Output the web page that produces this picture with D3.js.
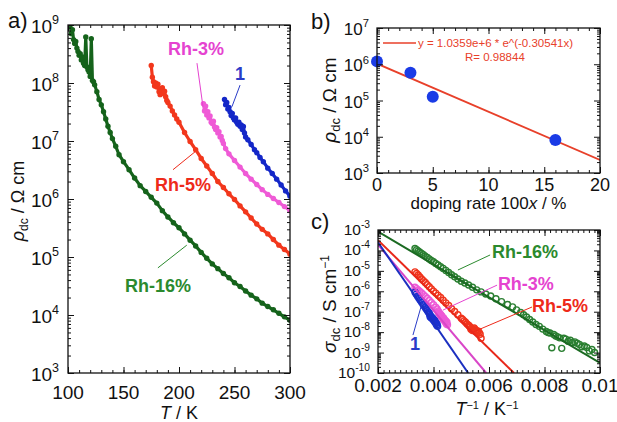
<!DOCTYPE html>
<html>
<head>
<meta charset="utf-8">
<script src="https://cdn.jsdelivr.net/npm/d3@7"></script>
<style>
  body { margin: 0; background: #fff; }
  svg { display: block; font-family: "Liberation Sans", Arial, Helvetica, sans-serif; }
</style>
</head>
<body>
<div id="chart"></div>
<script>
// ---- data ----
// panel a: rho_dc (Ohm cm) vs T (K)
const tRh16 = [102,103,104,105,106,107,108,109,110,111,112,113,114,115,116,117,118,119,120,121,122,123,124,
  126,128,130,132,134,136,138,140,143,146,150,155,160,165,170,175,180,185,190,195,200,205,210,215,220,225,230,
  235,240,245,250,255,260,265,270,275,280,285,290,295,300];
const rhoRh16 = [1.0e9,7.1e8,8.3e8,5.6e8,4.8e8,5.2e8,4.0e8,3.5e8,3.0e8,3.2e8,2.5e8,2.8e8,2.2e8,2.0e8,6.2e8,1.9e8,
  1.7e8,1.55e8,1.3e8,5.8e8,1.1e8,1.05e8,9.3e7,
  7.1e7,5.2e7,4.2e7,3.2e7,2.4e7,1.8e7,1.4e7,1.1e7,8.1e6,5.8e6,4.4e6,
  3.2e6,2.3e6,1.7e6,1.35e6,1.07e6,8.5e5,6.3e5,4.9e5,3.9e5,3.2e5,2.5e5,1.95e5,1.55e5,1.2e5,9.5e4,7.6e4,
  6.3e4,5.2e4,4.4e4,3.6e4,3.1e4,2.6e4,2.2e4,1.9e4,1.6e4,1.4e4,1.23e4,1.07e4,9.3e3,8.1e3];

const tRh5 = [175,176,177,178,179,180,181,182,183,184,185,186,187,188,189,190,192,194,196,198,200,
  205,210,215,220,225,230,235,240,245,250,255,260,265,270,275,280,285,290,295,300];
const rhoRh5 = [2.0e8,1.26e8,1.05e8,8.9e7,1.0e8,8.5e7,9.5e7,7.1e7,6.3e7,7.6e7,8.3e7,6.6e7,7.2e7,5.8e7,5.0e7,4.6e7,
  4.0e7,3.3e7,2.8e7,2.4e7,2.1e7,
  1.4e7,9.8e6,7.1e6,5.0e6,3.7e6,2.75e6,2.0e6,1.58e6,1.23e6,9.8e5,7.6e5,6.0e5,4.7e5,3.7e5,3.0e5,2.5e5,2.0e5,1.6e5,1.35e5,1.12e5];

const tRh3 = [222,223,224,225,226,227,228,229,230,231,232,233,234,235,236,237,238,239,240,242,245,
  250,255,260,265,270,275,280,285,290,295,300];
const rhoRh3 = [4.4e7,3.3e7,4.0e7,2.8e7,3.2e7,2.5e7,2.7e7,2.1e7,2.0e7,2.2e7,1.74e7,1.58e7,1.7e7,1.38e7,1.45e7,1.17e7,
  1.2e7,1.02e7,9.1e6,7.4e6,6.0e6,
  4.6e6,3.55e6,2.75e6,2.2e6,1.78e6,1.45e6,1.2e6,1.02e6,8.7e5,7.4e5,6.3e5];

const t1 = [241,242,243,244,245,246,247,248,249,250,251,252,253,254,255,256,257,258,259,260,
  262,265,268,270,273,276,280,284,288,292,296,300];
const rho1 = [5.2e7,4.2e7,4.6e7,3.55e7,3.8e7,3.2e7,2.75e7,3.0e7,2.5e7,2.3e7,2.5e7,2.1e7,1.95e7,2.1e7,1.8e7,1.9e7,
  1.58e7,1.78e7,1.38e7,1.17e7,
  1.05e7,8.7e6,7.1e6,6.3e6,5.2e6,4.4e6,3.4e6,2.75e6,2.2e6,1.74e6,1.38e6,1.12e6];

// panel b: rho_dc at room temperature vs doping rate
const dopingRate = [0, 3, 5, 16];
const rhoRT = [1.2e6, 5.8e5, 1.27e5, 8.1e3];
const fitA = 1.0359e6;
const fitK = -0.30541;
const fitR = 0.98844;
const fitRange = [0, 20];

// panel c: straight fits of sigma_dc vs 1/T (end points)
const fitInvT16 = [0.002, 0.01],   fitSig16 = [8.3e-4, 3.1e-10];
const fitInvT5  = [0.002, 0.0069], fitSig5  = [3.2e-4, 1.0e-10];
const fitInvT3  = [0.002, 0.0059], fitSig3  = [1.9e-4, 1.0e-10];
const fitInvT1  = [0.002, 0.00525], fitSig1 = [2.5e-4, 1.0e-10];

// tick labels
const aXTicks = [100, 150, 200, 250, 300];
const aYExp = [3, 4, 5, 6, 7, 8, 9];
const bXTicks = [0, 5, 10, 15, 20];
const bYExp = [3, 4, 5, 6, 7];
const cXTicks = [0.002, 0.004, 0.006, 0.008, 0.01];
const cXLabels = ["0.002", "0.004", "0.006", "0.008", "0.01"];
const cYExp = [-10, -9, -8, -7, -6, -5, -4, -3];

const series = [
  {name: "Rh-16%", T: tRh16, rho: rhoRh16, color: "#15631b", open: "#2a7f31", label: "#2b8a2e",
   fx: fitInvT16, fs: fitSig16, lineC: "#1b6a22",
   a: {lab: [151.4, 2.5e4], lead: [[181, 6.5e4], [207, 1.6e5]]},
   c: {lab: [0.00611, 4.3e-5], lead: [[0.00604, 6.0e-5], [0.00488, 1.1e-5]]}},
  {name: "Rh-5%", T: tRh5, rho: rhoRh5, color: "#f2371c", open: "#f0341c", label: "#ee2a1a",
   fx: fitInvT5, fs: fitSig5, lineC: "#e8281a",
   a: {lab: [178.4, 1.37e6], lead: [[214.4, 6.5e6], [194.6, 3.2e6]]},
   c: {lab: [0.00755, 9.8e-8], lead: [[0.00755, 1.7e-7], [0.00542, 1.0e-8]]}},
  {name: "Rh-3%", T: tRh3, rho: rhoRh3, color: "#ef5ad6", open: "#ee5ad6", label: "#e543d0",
   fx: fitInvT3, fs: fitSig3, lineC: "#d946c8",
   a: {lab: [190.1, 3.0e8], lead: [[216.2, 2.2e8], [221.6, 3.9e7]]},
   c: {lab: [0.00632, 1.15e-6], lead: [[0.00629, 2.0e-6], [0.00434, 1.2e-7]]}},
  {name: "1", T: t1, rho: rho1, color: "#1427c8", open: "#1a30d0", label: "#2a3cc8",
   fx: fitInvT1, fs: fitSig1, lineC: "#1b2fc0",
   a: {lab: [250.5, 1.13e8], lead: [[255, 9.2e7], [247.7, 3.9e7]]},
   c: {lab: [0.00315, 1.35e-9], lead: [[0.00326, 7.2e-9], [0.00359, 2.7e-7]]}}
];

// ---- helpers ----
const W = 617, H = 422;
const svg = d3.select("#chart").append("svg").attr("width", W).attr("height", H);
const defs = svg.append("defs");
const ink = "#111";

function decadeMinors(e0, e1) {
  const out = [];
  for (let e = e0; e < e1; e++) for (let m = 2; m <= 9; m++) out.push(m * Math.pow(10, e));
  return out;
}

function frame(x, y, xMaj, xMin, yMaj, yMin) {
  const g = svg.append("g");
  const [l, r] = x.range(), [b, t] = y.range();
  const add = (axis, tx, ty, vals, size) => g.append("g")
      .attr("transform", `translate(${tx},${ty})`)
      .call(axis.tickValues(vals).tickSize(size).tickFormat(""))
      .call(s => s.select(".domain").remove())
      .selectAll("line").attr("stroke", ink).attr("stroke-width", 1);
  for (const [vals, size] of [[xMaj, -6], [xMin, -3]]) {
    add(d3.axisBottom(x), 0, b, vals, size);
    add(d3.axisTop(x), 0, t, vals, size);
  }
  for (const [vals, size] of [[yMaj, -6], [yMin, -3]]) {
    add(d3.axisLeft(y), l, 0, vals, size);
    add(d3.axisRight(y), r, 0, vals, size);
  }
  g.append("rect").attr("x", l).attr("y", t).attr("width", r - l).attr("height", b - t)
    .attr("fill", "none").attr("stroke", ink).attr("stroke-width", 1.3);
}

function clip(id, x, y) {
  const [l, r] = x.range(), [b, t] = y.range();
  defs.append("clipPath").attr("id", id).append("rect")
    .attr("x", l).attr("y", t).attr("width", r - l).attr("height", b - t);
  return `url(#${id})`;
}

function logLabels(y, exps, xEnd, size, dy) {
  svg.append("g").selectAll("text").data(exps).join("text")
    .attr("x", xEnd).attr("y", d => y(Math.pow(10, d)) + dy)
    .attr("text-anchor", "end").attr("font-size", size).attr("fill", ink)
    .each(function(d) {
      const t = d3.select(this);
      t.append("tspan").text("10");
      t.append("tspan").attr("dy", -0.45 * size).attr("font-size", 0.66 * size).text(d);
    });
}

function xLabels(x, vals, texts, yBase, size) {
  svg.append("g").selectAll("text").data(vals).join("text")
    .attr("x", d => x(d)).attr("y", yBase)
    .attr("text-anchor", "middle").attr("font-size", size).attr("fill", ink)
    .text((d, i) => texts ? texts[i] : d);
}

function panelTag(txt, x, y) {
  svg.append("text").attr("x", x).attr("y", y).attr("font-size", 22).attr("fill", ink).text(txt);
}

// ---- panel a ----
const xA = d3.scaleLinear().domain([100, 300]).range([68, 290]);
const yA = d3.scaleLog().domain([1e3, 1e9]).range([373, 25]);
const clipA = clip("clipA", xA, yA);

const gA = svg.append("g").attr("clip-path", clipA);
const lineA = d3.line().x(d => xA(d[0])).y(d => yA(d[1]));
series.forEach(s => {
  const pts = s.T.map((t, i) => [t, s.rho[i]]);
  gA.append("path").datum(pts).attr("d", lineA)
    .attr("fill", "none").attr("stroke", s.color).attr("stroke-width", 3.2).attr("stroke-linejoin", "round");
  gA.append("g").selectAll("circle").data(pts).join("circle")
    .attr("cx", d => xA(d[0])).attr("cy", d => yA(d[1])).attr("r", 2.7).attr("fill", s.color);
});

frame(xA, yA, aXTicks, d3.range(100, 301, 10),
  aYExp.map(e => Math.pow(10, e)), decadeMinors(3, 9));
logLabels(yA, aYExp, 59, 19, 8);
xLabels(xA, aXTicks, null, 399, 19);
panelTag("a)", 8, 28);

svg.append("text").attr("x", xA(200)).attr("y", 419).attr("text-anchor", "middle")
  .attr("font-size", 18).attr("fill", ink)
  .call(t => { t.append("tspan").attr("font-style", "italic").text("T"); t.append("tspan").text(" / K"); });

svg.append("text").attr("transform", "translate(24,201) rotate(-90)").attr("text-anchor", "middle")
  .attr("font-size", 18).attr("fill", ink)
  .call(t => {
    t.append("tspan").attr("font-style", "italic").text("ρ");
    t.append("tspan").attr("font-size", 12).attr("dy", 4).text("dc");
    t.append("tspan").attr("dy", -4).text(" / Ω cm");
  });

series.forEach(s => {
  svg.append("line")
    .attr("x1", xA(s.a.lead[0][0])).attr("y1", yA(s.a.lead[0][1]))
    .attr("x2", xA(s.a.lead[1][0])).attr("y2", yA(s.a.lead[1][1]))
    .attr("stroke", s.label).attr("stroke-width", 1);
  svg.append("text").attr("x", xA(s.a.lab[0])).attr("y", yA(s.a.lab[1]))
    .attr("font-size", 18).attr("font-weight", "bold").attr("fill", s.label).text(s.name);
});

// ---- panel b ----
const xB = d3.scaleLinear().domain([0, 20]).range([377, 600]);
const yB = d3.scaleLog().domain([1e3, 1e7]).range([173, 28]);
const clipB = clip("clipB", xB, yB);

svg.append("path").attr("clip-path", clipB)
  .datum(fitRange.map(v => [v, fitA * Math.exp(fitK * v)]))
  .attr("d", d3.line().x(d => xB(d[0])).y(d => yB(d[1])))
  .attr("fill", "none").attr("stroke", "#e8402a").attr("stroke-width", 1.8);

svg.append("g").selectAll("circle").data(dopingRate).join("circle")
  .attr("cx", d => xB(d)).attr("cy", (d, i) => yB(rhoRT[i])).attr("r", 6).attr("fill", "#1a3be6");

frame(xB, yB, bXTicks, d3.range(0, 21, 1),
  bYExp.map(e => Math.pow(10, e)), decadeMinors(3, 7));
logLabels(yB, bYExp, 369, 17, 7);
xLabels(xB, bXTicks, null, 191, 18);
panelTag("b)", 311, 29);

// legend of the fit
svg.append("line").attr("x1", 383).attr("x2", 416).attr("y1", 43).attr("y2", 43)
  .attr("stroke", "#e8402a").attr("stroke-width", 1.5);
svg.append("text").attr("x", 418).attr("y", 47).attr("font-size", 11.5).attr("fill", "#e8402a")
  .text(`y = ${fitA.toExponential(4)} * e^(${fitK}x)`);
svg.append("text").attr("x", 465).attr("y", 61).attr("font-size", 11.5).attr("fill", "#e8402a")
  .text(`R= ${fitR}`);

svg.append("text").attr("x", xB(10)).attr("y", 209).attr("text-anchor", "middle")
  .attr("font-size", 17).attr("fill", ink)
  .call(t => {
    t.append("tspan").text("doping rate 100");
    t.append("tspan").attr("font-style", "italic").text("x");
    t.append("tspan").text(" / %");
  });

svg.append("text").attr("transform", "translate(336,100) rotate(-90)").attr("text-anchor", "middle")
  .attr("font-size", 19).attr("fill", ink)
  .call(t => {
    t.append("tspan").attr("font-style", "italic").text("ρ");
    t.append("tspan").attr("font-size", 13).attr("dy", 4).text("dc");
    t.append("tspan").attr("dy", -4).text(" / Ω cm");
  });

// ---- panel c ----
const xC = d3.scaleLinear().domain([0.002, 0.01]).range([378, 600]);
const yC = d3.scaleLog().domain([1e-10, 1e-3]).range([373, 230]);
const clipC = clip("clipC", xC, yC);
const gC = svg.append("g").attr("clip-path", clipC);

series.forEach(s => {
  gC.append("g").selectAll("circle").data(s.T.map((t, i) => [1 / t, 1 / s.rho[i]])).join("circle")
    .attr("cx", d => xC(d[0])).attr("cy", d => yC(d[1])).attr("r", 3)
    .attr("fill", "none").attr("stroke", s.open).attr("stroke-width", 1.4);
});
series.forEach(s => {
  gC.append("path").datum(s.fx.map((v, i) => [v, s.fs[i]]))
    .attr("d", d3.line().x(d => xC(d[0])).y(d => yC(d[1])))
    .attr("fill", "none").attr("stroke", s.lineC).attr("stroke-width", 2);
});

frame(xC, yC, cXTicks, d3.range(10, 51).map(i => i * 0.0002),
  cYExp.map(e => Math.pow(10, e)), decadeMinors(-10, -3));
logLabels(yC, cYExp, 370, 15.5, 5);
xLabels(xC, cXTicks, cXLabels, 392, 19);
panelTag("c)", 311, 229);

svg.append("text").attr("x", 487).attr("y", 415).attr("text-anchor", "middle")
  .attr("font-size", 18).attr("fill", ink)
  .call(t => {
    t.append("tspan").attr("font-style", "italic").text("T");
    t.append("tspan").attr("font-size", 11).attr("dy", -6).text("−1");
    t.append("tspan").attr("dy", 6).text(" / K");
    t.append("tspan").attr("font-size", 11).attr("dy", -6).text("−1");
  });

svg.append("text").attr("transform", "translate(336,304) rotate(-90)").attr("text-anchor", "middle")
  .attr("font-size", 19).attr("fill", ink)
  .call(t => {
    t.append("tspan").attr("font-style", "italic").text("σ");
    t.append("tspan").attr("font-size", 13).attr("dy", 4).text("dc");
    t.append("tspan").attr("dy", -4).text(" / S cm");
    t.append("tspan").attr("font-size", 12).attr("dy", -7).text("−1");
  });

series.forEach(s => {
  svg.append("line")
    .attr("x1", xC(s.c.lead[0][0])).attr("y1", yC(s.c.lead[0][1]))
    .attr("x2", xC(s.c.lead[1][0])).attr("y2", yC(s.c.lead[1][1]))
    .attr("stroke", s.label).attr("stroke-width", 1);
  svg.append("text").attr("x", xC(s.c.lab[0])).attr("y", yC(s.c.lab[1]))
    .attr("font-size", 18).attr("font-weight", "bold").attr("fill", s.label).text(s.name);
});
</script>
</body>
</html>
